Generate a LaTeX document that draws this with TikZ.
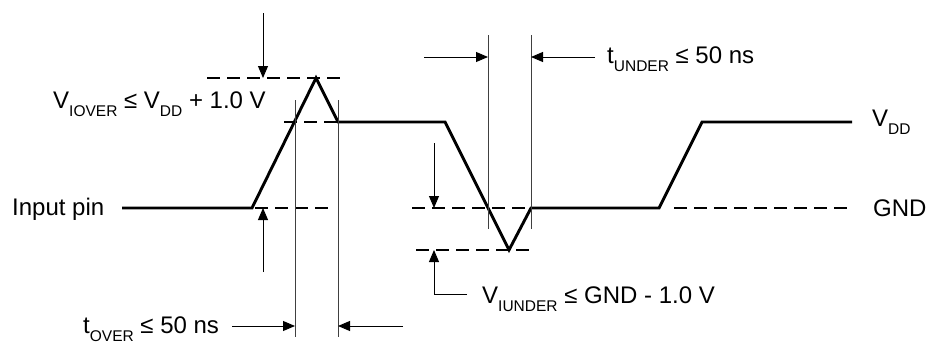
\documentclass[tikz,border=0pt]{standalone}
\usepackage{fontspec}
\setmainfont{Liberation Sans}
\usetikzlibrary{arrows.meta}

% lowered small index, as in V_IOVER
\newcommand{\idx}[1]{\raisebox{-8.5pt}{\fontsize{15.5}{15.5}\selectfont #1}}

\begin{document}
\begin{tikzpicture}[x=1pt,y=-1pt,
    wave/.style={line width=2.9pt, line join=miter},
    level/.style={line width=2.5pt, dash pattern=on 13pt off 7pt},
    guide/.style={line width=0.9pt, black!75},
    dim/.style={line width=0.9pt, -{Triangle[length=12pt,width=10pt]}},
    lbl/.style={font=\fontsize{24}{28}\selectfont, inner sep=0pt}]
  \useasboundingbox (0,0) rectangle (928,343);

  % Waveform corners
  \coordinate (start) at (122,208);
  \coordinate (rise1) at (252,208);
  \coordinate (peak)  at (316,78);
  \coordinate (high1) at (338,122);
  \coordinate (fall)  at (445,122);
  \coordinate (dip)   at (509,250);
  \coordinate (low1)  at (531,208);
  \coordinate (rise2) at (659,208);
  \coordinate (high2) at (702,122);
  \coordinate (stop)  at (852,122);

  % Dashed levels
  \draw[level] (207,78) -- (340,78);
  \draw[level] (284,122) -- (high1);
  \draw[level] (255,208) -- (332,208);
  \draw[level] (412,208) -- (low1);
  \draw[level] (674,208) -- (848,208);
  \draw[level] (416,250) -- (532,250);

  % Signal
  \draw[wave] (start) -- (rise1) -- (peak) -- (high1) -- (fall) -- (dip)
    -- (low1) -- (rise2) -- (high2) -- (stop);

  % Timing guides
  \foreach \x/\top/\bot in {295/100/337, 338/100/337, 488/35/229, 531/35/229}
    \draw[guide] (\x,\top) -- (\x,\bot);

  % Amplitude arrows
  \draw[dim] (263,13) -- (263,78);
  \draw[dim] (263,272) -- (263,208);
  \draw[dim] (434,143) -- (434,208);
  \draw[dim] (467,294) -- (434,294) -- (434,250);

  % Width arrows
  \draw[dim] (232,326) -- (295,326);
  \draw[dim] (403,326) -- (338,326);
  \draw[dim] (424,57) -- (488,57);
  \draw[dim] (595,57) -- (531,57);

  % Labels
  \node[lbl, anchor=base west] (pin)    at (12,215)  {Input pin};
  \node[lbl, anchor=base west] (vover)  at (53,108)  {V\idx{IOVER} ≤ V\idx{DD} + 1.0 V};
  \node[lbl, anchor=base west] (tover)  at (83,333)  {t\idx{OVER} ≤ 50 ns};
  \node[lbl, anchor=base west] (tunder) at (607,63)  {t\idx{UNDER} ≤ 50 ns};
  \node[lbl, anchor=base west] (vunder) at (482,303) {V\idx{IUNDER} ≤ GND - 1.0 V};
  \node[lbl, anchor=base west] (vdd)    at (872,126) {V\idx{DD}};
  \node[lbl, anchor=base west] (gnd)    at (873,216) {GND};
\end{tikzpicture}
\end{document}
